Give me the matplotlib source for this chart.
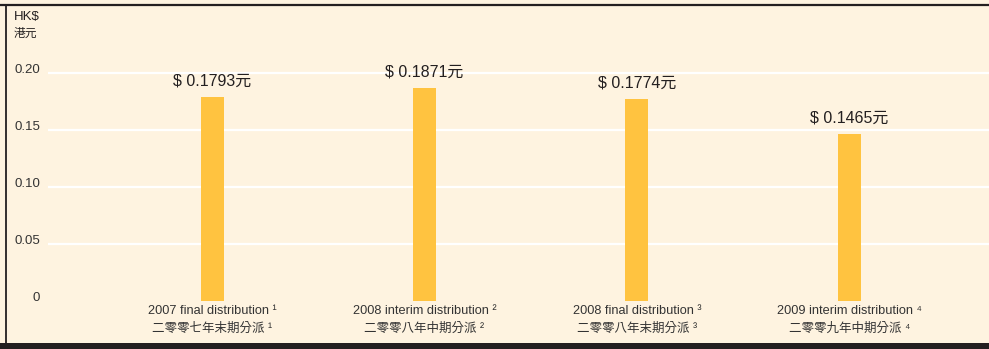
import matplotlib
matplotlib.use("Agg")
import matplotlib.pyplot as plt
from matplotlib.patches import Rectangle
from matplotlib.lines import Line2D

plt.rcParams['font.family'] = ['Liberation Sans', 'Noto Sans CJK TC', 'DejaVu Sans']

categories_en = ["2007 final distribution", "2008 interim distribution",
                 "2008 final distribution", "2009 interim distribution"]
categories_zh = ["二零零七年末期分派", "二零零八年中期分派",
                 "二零零八年末期分派", "二零零九年中期分派"]
notes = ["¹", "²", "³", "⁴"]
values = [0.1793, 0.1871, 0.1774, 0.1465]
yticks = [0, 0.05, 0.10, 0.15, 0.20]
ytick_labels = ["0", "0.05", "0.10", "0.15", "0.20"]

W, H = 989, 349
fig = plt.figure(figsize=(W / 100, H / 100), dpi=100)
bg = "#FEF3E0"
fig.patch.set_facecolor(bg)

# axes: left 48px, right 989px, bottom y=301px, top y=40px
left, right, bottom, top = 48, 989, 301, 40
step = 212.4
first = 212.0
ax = fig.add_axes([left / W, 1 - bottom / H, (right - left) / W, (bottom - top) / H])
ax.set_facecolor(bg)
ymax = (bottom - top) / 1140.0
ax.set_ylim(0, ymax)
x = list(range(len(values)))
ax.set_xlim(-(first - left) / step, (right - first) / step)

for s in ax.spines.values():
    s.set_visible(False)

for yt in yticks[1:]:
    ax.axhline(yt, color="white", lw=1.6, zorder=0)

bars = ax.bar(x, values, width=23 / step, color="#FFC340", zorder=2)

for xi, v in zip(x, values):
    ax.text(xi, v + 0.0075, f"$ {v:.4f}元", ha="center", va="bottom",
            fontsize=11.5, color="#231F20")

ax.set_yticks(yticks)
ax.set_yticklabels([])
ax.tick_params(axis="both", length=0)
for yt, lab in zip(yticks, ytick_labels):
    ax.text(-(first - 40) / step, yt + 0.0025, lab, ha="right", va="center",
            fontsize=9.5, color="#333333")

ax.set_xticks(x)
ax.set_xticklabels([])
for xi, en, zh, n in zip(x, categories_en, categories_zh, notes):
    ax.annotate(f"{en} {n}", xy=(xi, 0), xycoords="data", xytext=(0, -7.5),
                textcoords="offset points", ha="center", va="center",
                fontsize=9.2, color="#333333")
    ax.annotate(f"{zh} {n}", xy=(xi, 0), xycoords="data", xytext=(0, -20),
                textcoords="offset points", ha="center", va="center",
                fontsize=9, color="#333333")

fig.text(14 / W, 1 - 17 / H, "HK$", ha="left", va="center", fontsize=9.5, color="#231F20")
fig.text(14 / W, 1 - 34 / H, "港元", ha="left", va="center", fontsize=8.5, color="#231F20")

# frame lines
fig.add_artist(Line2D([0, 1], [1 - 5 / H, 1 - 5 / H], transform=fig.transFigure,
                      color="#231F20", lw=1.6))
fig.add_artist(Line2D([6 / W, 6 / W], [1 - 5 / H, 1 - 343 / H], transform=fig.transFigure,
                      color="#231F20", lw=1.3))
fig.add_artist(Rectangle((0, 0), 1, 6 / H, transform=fig.transFigure,
                         facecolor="#231F20", edgecolor="none"))

fig.savefig("out.png", dpi=100, facecolor=bg)
